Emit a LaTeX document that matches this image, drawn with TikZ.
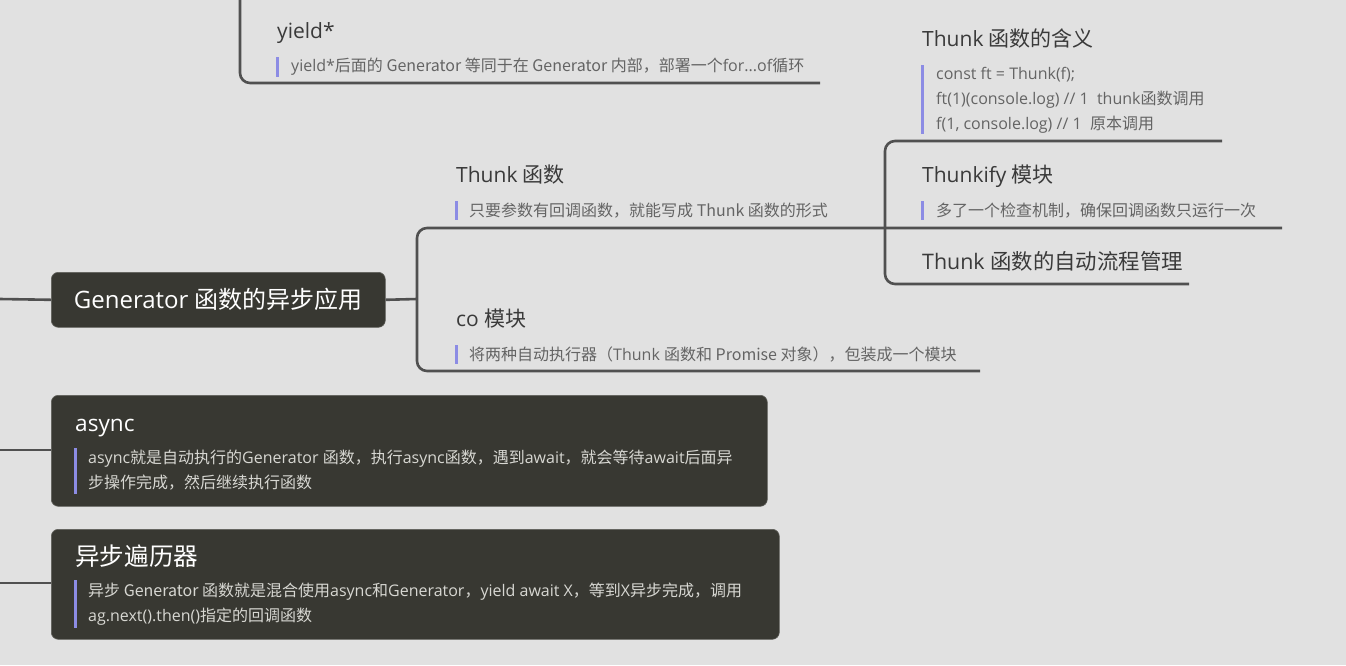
\documentclass[tikz,border=0pt]{standalone}
\usepackage{fontspec}
\setmainfont{Open Sans}
\newfontfamily\cjkfont{Noto Sans CJK SC}
\newfontfamily\latfont{Open Sans}
\XeTeXinterchartokenstate=1
\newXeTeXintercharclass\cjkcls
\count255="3000
\loop\ifnum\count255<"A000 \XeTeXcharclass\count255=\cjkcls \advance\count255 by 1 \repeat
\count255="FF00
\loop\ifnum\count255<"FFF0 \XeTeXcharclass\count255=\cjkcls \advance\count255 by 1 \repeat
\XeTeXinterchartoks 0 \cjkcls={\cjkfont}
\XeTeXinterchartoks 4095 \cjkcls={\cjkfont}
\XeTeXinterchartoks \cjkcls 0={\latfont}
\definecolor{bgc}{RGB}{225,225,225}
\definecolor{darkc}{RGB}{56,56,50}
\definecolor{linec}{RGB}{80,80,80}
\definecolor{titlec}{RGB}{58,58,58}
\definecolor{notec}{RGB}{100,100,100}
\definecolor{barc}{RGB}{140,140,228}
\definecolor{dnotec}{RGB}{215,215,210}
\tikzset{
  conn/.style={draw=linec, line width=2.6pt, rounded corners=10pt},
  accent/.style={draw=barc, line width=3pt},
  ttl/.style={anchor=base west, inner sep=0pt, font=\fontsize{21}{25}\selectfont, text=titlec},
  nt/.style={anchor=base west, inner sep=0pt, font=\fontsize{16}{19}\selectfont, text=notec},
  dbox/.style={fill=darkc, draw=darkc!80!white, line width=0.6pt, rounded corners=7pt, anchor=north west, inner sep=0pt},
  dttl/.style={anchor=base west, inner sep=0pt, font=\fontsize{22.6}{26}\selectfont, text=white},
  dnt/.style={anchor=base west, inner sep=0pt, font=\fontsize{16}{19}\selectfont, text=dnotec},
}
\begin{document}
\begin{tikzpicture}[x=1pt,y=-1pt]
\useasboundingbox (0,0) rectangle (1346,665);
\fill[bgc] (0,0) rectangle (1346,665);

% top yield* branch
\coordinate (ytop) at (240,0);
\coordinate (yend) at (820,83);
\draw[conn] (ytop) |- (yend);
\node[ttl] (yield) at (277,38) {yield*};
\draw[accent] (277,57) -- (277,77);
\node[nt] (yieldn) at (291,71) {yield*后面的 Generator 等同于在 Generator 内部，部署一个for...of循环};

% main node
\node[dbox, minimum width=334pt, minimum height=55pt] (main) at (51,272) {};
\node[anchor=center, inner sep=0pt, font=\fontsize{24}{28}\selectfont, text=white] (maint) at (main.center) {Generator 函数的异步应用};
\coordinate (mainleft) at (0,299);
\draw[conn] (mainleft) -- (main.west);
\coordinate (j1) at (417,299);
\draw[conn] (main.east) -- (j1);
\coordinate (coend) at (980,371);
\coordinate (thend) at (1282,228);
\draw[conn] (coend) -- (417,371) -- (417,228) -- (thend);

\node[ttl] (thunk) at (456,182) {Thunk 函数};
\draw[accent] (456,201) -- (456,220);
\node[nt] (thunkn) at (469,216) {只要参数有回调函数，就能写成 Thunk 函数的形式};

\node[ttl] (co) at (456,326) {co 模块};
\draw[accent] (456,345) -- (456,364);
\node[nt] (con) at (469,360) {将两种自动执行器（Thunk 函数和 Promise 对象），包装成一个模块};

% thunk sub-branch
\coordinate (t1end) at (1222,141);
\coordinate (t3end) at (1189,284);
\draw[conn] (t1end) -- (885,141) -- (885,284) -- (t3end);

\node[ttl] (t1) at (922,46) {Thunk 函数的含义};
\draw[accent] (922,65) -- (922,134);
\node[nt] (t1a) at (936,79) {const ft = Thunk(f);};
\node[nt] (t1b) at (936,104) {ft(1)(console.log) // 1\ \ thunk函数调用};
\node[nt] (t1c) at (936,129) {f(1, console.log) // 1\ \ 原本调用};

\node[ttl] (t2) at (922,182) {Thunkify 模块};
\draw[accent] (922,201) -- (922,220);
\node[nt] (t2n) at (936,216) {多了一个检查机制，确保回调函数只运行一次};

\node[ttl, font=\fontsize{21.4}{25}\selectfont] (t3) at (922,269) {Thunk 函数的自动流程管理};

% async box
\node[dbox, minimum width=716pt, minimum height=111pt] (async) at (51,395) {};
\coordinate (aleft) at (0,450);
\draw[conn] (aleft) -- (async.west |- aleft);
\node[dttl] (asynct) at (75,431) {async};
\draw[accent] (75,448) -- (75,494);
\node[dnt] (asyncn1) at (88,463) {async就是自动执行的Generator 函数，执行async函数，遇到await，就会等待await后面异};
\node[dnt] (asyncn2) at (88,488) {步操作完成，然后继续执行函数};

% async iterator box
\node[dbox, minimum width=728pt, minimum height=110pt] (iter) at (51,529) {};
\coordinate (ileft) at (0,583);
\draw[conn] (ileft) -- (iter.west |- ileft);
\node[dttl, font=\fontsize{24.6}{28}\selectfont] (itert) at (75,565) {异步遍历器};
\draw[accent] (75,580) -- (75,628);
\node[dnt] (itern1) at (88,596) {异步 Generator 函数就是混合使用async和Generator，yield await X，等到X异步完成，调用};
\node[dnt] (itern2) at (88,621) {ag.next().then()指定的回调函数};
\end{tikzpicture}
\end{document}
